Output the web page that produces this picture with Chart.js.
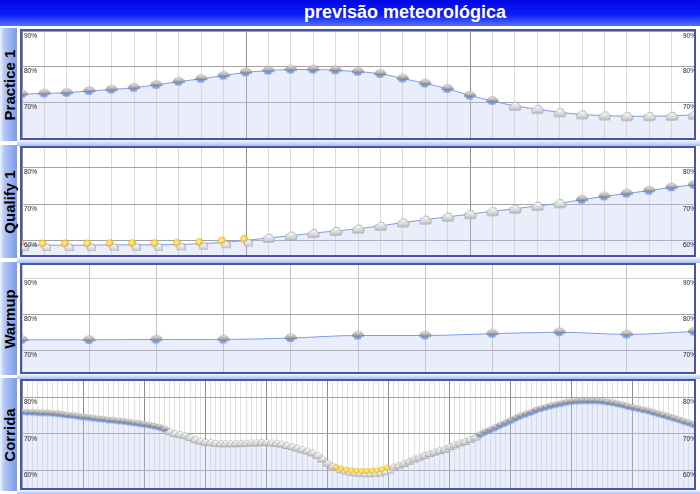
<!DOCTYPE html>
<html>
<head>
<meta charset="utf-8">
<title>previsão meteorológica</title>
<script src="https://cdn.jsdelivr.net/npm/chart.js@4/dist/chart.umd.min.js"></script>
<style>
    body { margin: 0; width: 700px; height: 494px; position: relative; overflow: hidden; background: #fff;
        font-family: "Liberation Sans", Arial, sans-serif; }
    #head { position: absolute; left: 0; top: 0; width: 700px; height: 26px;
        background: linear-gradient(to bottom, #0006e6 0%, #0a1cf8 55%, #5370ff 100%); }
    #head span { position: absolute; left: 110px; width: 590px; top: 0; line-height: 25px; text-align: center;
        color: #fff; font-weight: bold; font-size: 18px; }
    .side { position: absolute; left: 0; width: 17px; height: 113px;
        background: linear-gradient(to right, #eef3ff 0%, #b4c8f6 25%, #98b2f0 60%, #7d9aea 100%); }
    .side span { position: absolute; left: 50%; top: 50%; transform: translate(-50%, -50%) rotate(-90deg);
        white-space: nowrap; font-weight: bold; font-size: 15px; color: #000; }
    .band { position: absolute; left: 17px; width: 683px; background: linear-gradient(to bottom, #f4f7ff, #a9bff2); }
    .frame { position: absolute; left: 20px; width: 672px; height: 107px; border: 2px solid #4b53a6; background: #fff; }
    .frame canvas { display: block; }
</style>
</head>
<body>
<div id="head"><span>previsão meteorológica</span></div>

<div class="side" style="top:28px"><span>Practice 1</span></div>
<div class="side" style="top:145px"><span>Qualify 1</span></div>
<div class="side" style="top:262px"><span>Warmup</span></div>
<div class="side" style="top:378px"><span>Corrida</span></div>

<div class="band" style="top:140px;height:6px"></div>
<div class="band" style="top:257px;height:6px"></div>
<div class="band" style="top:374px;height:5px"></div>
<div class="band" style="top:490px;height:4px"></div>

<div class="frame" style="top:29px"><canvas id="chartPractice" width="672" height="107"></canvas></div>
<div class="frame" style="top:146px"><canvas id="chartQualify" width="672" height="107"></canvas></div>
<div class="frame" style="top:263px"><canvas id="chartWarmup" width="672" height="107"></canvas></div>
<div class="frame" style="top:379px"><canvas id="chartCorrida" width="672" height="107"></canvas></div>

<script>
// humidade (%) por sessão
const practiceValues = [72.3, 72.5, 72.7, 73.2, 73.6, 74.1, 74.9, 75.8, 76.6, 77.5, 78.4, 78.9, 79.2, 79.2, 79.0, 78.6,
    78.0, 76.7, 75.3, 73.8, 71.9, 70.4, 69.0, 68.1, 67.2, 66.6, 66.3, 66.1, 66.1, 66.2, 66.5];
const qualifyValues = [58.7, 58.7, 58.7, 58.7, 58.8, 58.8, 58.8, 58.9, 59.1, 59.5, 60.0, 60.7, 61.3, 62.0, 62.6, 63.2,
    64.0, 64.9, 65.7, 66.5, 67.2, 68.0, 68.7, 69.5, 70.2, 71.2, 72.1, 72.9, 73.7, 74.6, 75.3];
const warmupValues = [73.0, 73.0, 73.1, 73.1, 73.5, 74.2, 74.2, 74.7, 75.1, 74.5, 75.3];
const corridaValues = [
    75.9, 75.8, 75.8, 75.7, 75.6, 75.6, 75.5, 75.4, 75.2, 75.0, 74.9, 74.7,
    74.5, 74.4, 74.2, 74.0, 73.9, 73.7, 73.6, 73.4, 73.3, 73.1, 72.9, 72.7,
    72.5, 72.3, 72.0, 71.7, 71.2, 70.6, 70.1, 69.8, 69.5, 69.0, 68.4, 68.0,
    67.7, 67.6, 67.4, 67.3, 67.3, 67.3, 67.3, 67.4, 67.4, 67.5, 67.5, 67.6,
    67.6, 67.5, 67.4, 67.2, 66.8, 66.5, 66.1, 65.7, 65.3, 64.8, 64.1, 63.1,
    62.0, 61.2, 60.5, 60.1, 59.8, 59.6, 59.5, 59.4, 59.4, 59.5, 59.6, 59.9,
    60.4, 60.9, 61.4, 61.9, 62.5, 63.1, 63.6, 64.1, 64.6, 65.0, 65.4, 65.8,
    66.5, 67.0, 67.5, 67.9, 68.5, 69.1, 69.7, 70.4, 71.0, 71.6, 72.3, 72.9,
    73.5, 74.2, 74.8, 75.3, 75.8, 76.4, 76.8, 77.2, 77.6, 77.9, 78.2, 78.5,
    78.7, 78.8, 78.9, 78.9, 78.9, 78.9, 78.8, 78.6, 78.4, 78.1, 77.8, 77.4,
    77.1, 76.8, 76.5, 76.2, 75.8, 75.4, 75.0, 74.6, 74.2, 73.8, 73.3, 72.9,
    72.4];

// tempo: R = chuva, C = nublado, S = sol entre nuvens  [tipo, nº de pontos]
const practiceSky = [['R', 22], ['C', 9]];
const qualifySky = [['S', 11], ['C', 14], ['R', 6]];
const warmupSky = [['R', 11]];
const corridaSky = [['R', 29], ['C', 33], ['S', 11], ['C', 17], ['R', 43]];

// escala e rótulos do eixo
const practiceTicks = [90, 80, 70];
const qualifyTicks = [80, 70, 60];
const warmupTicks = [90, 80, 70];
const corridaTicks = [80, 70, 60];
const practiceRange = [60, 90];
const qualifyRange = [56.0, 85.4];
const warmupRange = [64.1, 93.7];
const corridaRange = [55.2, 84.4];

//-----------------------------------------------------------------------------
function puff(g, circles, x0, x1, yb, top, bottom) {
    const ys = circles.map(c => c[1] - c[2]);
    const gr = g.createLinearGradient(0, Math.min(...ys), 0, yb);
    gr.addColorStop(0, top);
    gr.addColorStop(1, bottom);
    const shape = () => {
        g.beginPath();
        circles.forEach(([x, y, r]) => { g.moveTo(x + r, y); g.arc(x, y, r, 0, Math.PI * 2); });
        g.rect(x0, yb - 2.4, x1 - x0, 2.4);
    };
    shape(); g.strokeStyle = '#9a9a9a'; g.lineWidth = 1.2; g.stroke();
    shape(); g.fillStyle = gr; g.fill();
}

function makeIcon(kind, s) {
    const c = document.createElement('canvas');
    c.width = Math.round(14 * s);
    c.height = Math.round(14 * s);
    const g = c.getContext('2d');
    g.scale(c.width / 14, c.height / 14);
    if (kind === 'R') {
        g.fillStyle = '#78a2f0';
        g.beginPath(); g.ellipse(6.6, 9.2, 3.8, 1.7, 0, 0, Math.PI * 2); g.fill();
        const gr = g.createLinearGradient(0, 3, 0, 8);
        gr.addColorStop(0, '#ececec');
        gr.addColorStop(1, '#8a8a8a');
        g.fillStyle = gr;
        g.beginPath(); g.ellipse(7, 8, 5.8, 5.2, 0, Math.PI, Math.PI * 2); g.closePath(); g.fill();
        g.strokeStyle = 'rgba(90,90,90,0.6)'; g.lineWidth = 0.6; g.stroke();
    } else if (kind === 'C') {
        puff(g, [[4.6, 8.2, 2.6], [7.6, 6.6, 3.2], [10.4, 8.4, 2.4]], 2.2, 11.8, 10.8, '#ffffff', '#c4c4c4');
    } else {
        const sg = g.createRadialGradient(4.4, 4.4, 0.5, 5.2, 5.4, 3.8);
        sg.addColorStop(0, '#fff6b0');
        sg.addColorStop(1, '#f2b400');
        g.fillStyle = sg;
        g.beginPath(); g.arc(5.2, 5.4, 3.8, 0, Math.PI * 2); g.fill();
        puff(g, [[7.4, 9.8, 2.1], [9.8, 8.8, 2.6], [12, 10.2, 1.7]], 5.8, 13.4, 12, '#ffffff', '#cfcfcf');
    }
    return c;
}

const bigIcons = { R: makeIcon('R', 1), C: makeIcon('C', 1), S: makeIcon('S', 1) };
const smallIcons = { R: makeIcon('R', 0.75), C: makeIcon('C', 0.75), S: makeIcon('S', 0.75) };

function expandSky(runs) {
    const out = [];
    runs.forEach(([k, n]) => { for (let i = 0; i < n; i++) out.push(k); });
    return out;
}

// eixos sem espaço próprio: a área do gráfico ocupa o canvas todo
const flatY = s => { s.width = 0; s.paddingTop = 0; s.paddingBottom = 0; s.paddingLeft = 0; s.paddingRight = 0; };
const flatX = s => { s.height = 0; s.paddingTop = 0; s.paddingBottom = 0; s.paddingLeft = 0; s.paddingRight = 0; };

function buildPanel(id, values, sky, ticks, range, grid) {
    const kinds = expandSky(sky);
    const icons = grid.small ? smallIcons : bigIcons;
    const setTicks = s => { s.ticks = ticks.map(v => ({ value: v })); };
    // rótulos 90% / 80% ... por cima do preenchimento
    const labelAxis = (position) => ({
        position: position,
        min: range[0],
        max: range[1],
        afterBuildTicks: setTicks,
        afterFit: flatY,
        ticks: {
            z: 1,
            mirror: true,
            padding: 2,
            labelOffset: 5,
            color: '#1a1a1a',
            font: { size: 6.5, family: 'Liberation Sans' },
            callback: v => v + '%',
        },
        border: { display: false },
        grid: { display: false, drawTicks: false },
    });
    return new Chart(document.getElementById(id), {
        type: 'line',
        data: {
            labels: values.map((v, i) => i),
            datasets: [{
                data: values,
                yAxisID: 'y',
                borderColor: '#7b9cf0',
                borderWidth: 1,
                backgroundColor: 'rgba(196, 205, 240, 0.36)',
                fill: 'start',
                cubicInterpolationMode: 'monotone',
                pointStyle: c => icons[kinds[c.dataIndex]],
                pointRadius: 5,
            }],
        },
        options: {
            responsive: false,
            animation: false,
            events: [],
            layout: { padding: 0, autoPadding: false },
            plugins: { legend: { display: false }, tooltip: { enabled: false } },
            scales: {
                x: {
                    afterFit: flatX,
                    ticks: { display: false, autoSkip: false },
                    border: { display: false },
                    grid: {
                        drawTicks: false,
                        color: c => (c.index % grid.major === 0 ? grid.majorColor : grid.minorColor),
                    },
                },
                y: {
                    position: 'left',
                    min: range[0],
                    max: range[1],
                    afterBuildTicks: setTicks,
                    afterFit: flatY,
                    ticks: { display: false },
                    border: { display: false },
                    grid: {
                        drawTicks: false,
                        color: c => (grid.lightY && grid.lightY.includes(c.tick.value) ? '#d2d2d2' : '#a2a2a2'),
                    },
                },
                yl: labelAxis('left'),
                yr: labelAxis('right'),
            },
        },
    });
}

buildPanel('chartPractice', practiceValues, practiceSky, practiceTicks, practiceRange,
    { major: 10, majorColor: '#8e8e8e', minorColor: '#dadada' });
buildPanel('chartQualify', qualifyValues, qualifySky, qualifyTicks, qualifyRange,
    { major: 10, majorColor: '#8e8e8e', minorColor: '#dadada' });
buildPanel('chartWarmup', warmupValues, warmupSky, warmupTicks, warmupRange,
    { major: 1, majorColor: '#c4c4c4', minorColor: '#c4c4c4', lightY: [90] });
buildPanel('chartCorrida', corridaValues, corridaSky, corridaTicks, corridaRange,
    { major: 12, majorColor: '#8e8e8e', minorColor: '#e0e0e0', small: true });
</script>
</body>
</html>
